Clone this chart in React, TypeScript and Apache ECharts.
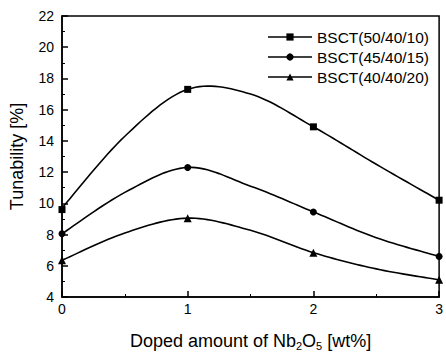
import React, { useEffect, useRef } from "react";
import * as echarts from "echarts";

// values
const xFit = [0, 0.5, 1, 1.5, 2, 2.5, 3];
const fit50 = [9.7, 14.3, 17.3, 17.0, 14.9, 12.5, 10.2];
const fit45 = [8.05, 10.7, 12.3, 11.1, 9.45, 7.8, 6.6];
const fit40 = [6.35, 8.1, 9.05, 8.27, 6.84, 5.8, 5.1];
// measured points (markers)
const xMeas = [0, 1, 2, 3];
const meas50 = [9.6, 17.3, 14.9, 10.2];
const meas45 = [8.05, 12.3, 9.45, 6.6];
const meas40 = [6.35, 9.05, 6.84, 5.1];
const seriesNames = ["BSCT(50/40/10)", "BSCT(45/40/15)", "BSCT(40/40/20)"];
const symbols = ["rect", "circle", "triangle"];
const symbolSizes = [7, 7, 8];

const FONT = "'Liberation Sans', Arial, sans-serif";

function splinePoints(pts: number[][], steps = 16) {
  const out: number[][] = [];
  const n = pts.length;
  for (let i = 0; i < n - 1; i++) {
    const p0 = pts[Math.max(0, i - 1)];
    const p1 = pts[i];
    const p2 = pts[i + 1];
    const p3 = pts[Math.min(n - 1, i + 2)];
    for (let s = 0; s < steps; s++) {
      const t = s / steps;
      const t2 = t * t;
      const t3 = t2 * t;
      const c = (a: number, b: number, cc: number, d: number) =>
        0.5 * (2 * b + (-a + cc) * t + (2 * a - 5 * b + 4 * cc - d) * t2 + (-a + 3 * b - 3 * cc + d) * t3);
      out.push([c(p0[0], p1[0], p2[0], p3[0]), c(p0[1], p1[1], p2[1], p3[1])]);
    }
  }
  out.push(pts[n - 1]);
  return out;
}

export default function App() {
  const ref = useRef<HTMLDivElement>(null);
  useEffect(() => {
    if (!ref.current) return;
    const chart = echarts.init(ref.current, undefined, { renderer: "svg" });
    const fits = [fit50, fit45, fit40];
    const meas = [meas50, meas45, meas40];
    const lineStyle = { color: "#000", width: 1.6, opacity: 1, type: "solid" };
    chart.setOption({
      animation: false,
      backgroundColor: "#fff",
      textStyle: { fontFamily: FONT, color: "#000" },
      grid: {
        left: 62,
        right: 3,
        top: 16,
        bottom: 55,
        show: true,
        borderColor: "#000",
        borderWidth: 1.5,
      },
      legend: {
        orient: "vertical",
        right: 12,
        top: 24,
        itemWidth: 44,
        itemHeight: 9,
        itemGap: 4,
        textStyle: { fontFamily: FONT, fontSize: 15.5, color: "#000" },
        lineStyle,
        data: seriesNames.map((n) => ({ name: n, lineStyle })),
      },
      xAxis: {
        type: "value",
        min: 0,
        max: 3,
        interval: 1,
        name: "Doped amount of Nb{sub|2}O{sub|5} [wt%]",
        nameLocation: "middle",
        nameGap: 33,
        nameTextStyle: {
          fontFamily: FONT,
          fontSize: 18,
          color: "#000",
          rich: {
            sub: { fontSize: 11, verticalAlign: "bottom", padding: [10, 0, 0, 0], fontFamily: FONT, color: "#000" },
          },
        },
        axisLine: { show: true, lineStyle: { color: "#000", width: 1.5 } },
        axisTick: { show: true, inside: true, length: 6, lineStyle: { color: "#000", width: 1.5 } },
        minorTick: { show: true, splitNumber: 2, length: 3, lineStyle: { color: "#000" } },
        axisLabel: { fontFamily: FONT, fontSize: 14, color: "#000", margin: 5 },
        splitLine: { show: false },
      },
      yAxis: {
        type: "value",
        min: 4,
        max: 22,
        interval: 2,
        name: "Tunability [%]",
        nameLocation: "middle",
        nameGap: 36,
        nameRotate: 90,
        nameTextStyle: { fontFamily: FONT, fontSize: 18, color: "#000" },
        axisLine: { show: true, lineStyle: { color: "#000", width: 1.5 } },
        axisTick: { show: true, inside: true, length: 6, lineStyle: { color: "#000", width: 1.5 } },
        minorTick: { show: true, splitNumber: 2, length: 3, lineStyle: { color: "#000" } },
        axisLabel: { fontFamily: FONT, fontSize: 14, color: "#000", margin: 8 },
        splitLine: { show: false },
      },
      series: [
        ...fits.map((vals, i) => ({
          name: "fit" + i,
          type: "custom",
          silent: true,
          data: xFit.map((x, j) => [x, vals[j]]),
          renderItem: (params: any, api: any) => {
            if (params.dataIndex !== 0) return null;
            const px = xFit.map((x, j) => api.coord([x, vals[j]]));
            return {
              type: "polyline",
              shape: { points: splinePoints(px) },
              style: { stroke: "#000", lineWidth: 1.6, fill: "none" },
            };
          },
        })),
        ...meas.map((vals, i) => ({
          name: seriesNames[i],
          type: "line",
          data: xMeas.map((x, j) => [x, vals[j]]),
          symbol: symbols[i],
          symbolSize: symbolSizes[i],
          showAllSymbol: true,
          clip: false,
          lineStyle: { color: "#000", width: 1.6, opacity: 0 },
          itemStyle: { color: "#000" },
          z: 5,
        })),
      ],
    });
    return () => chart.dispose();
  }, []);
  return (
    <div
      ref={ref}
      style={{ position: "fixed", left: 0, top: 0, width: 446, height: 356 }}
    />
  );
}
